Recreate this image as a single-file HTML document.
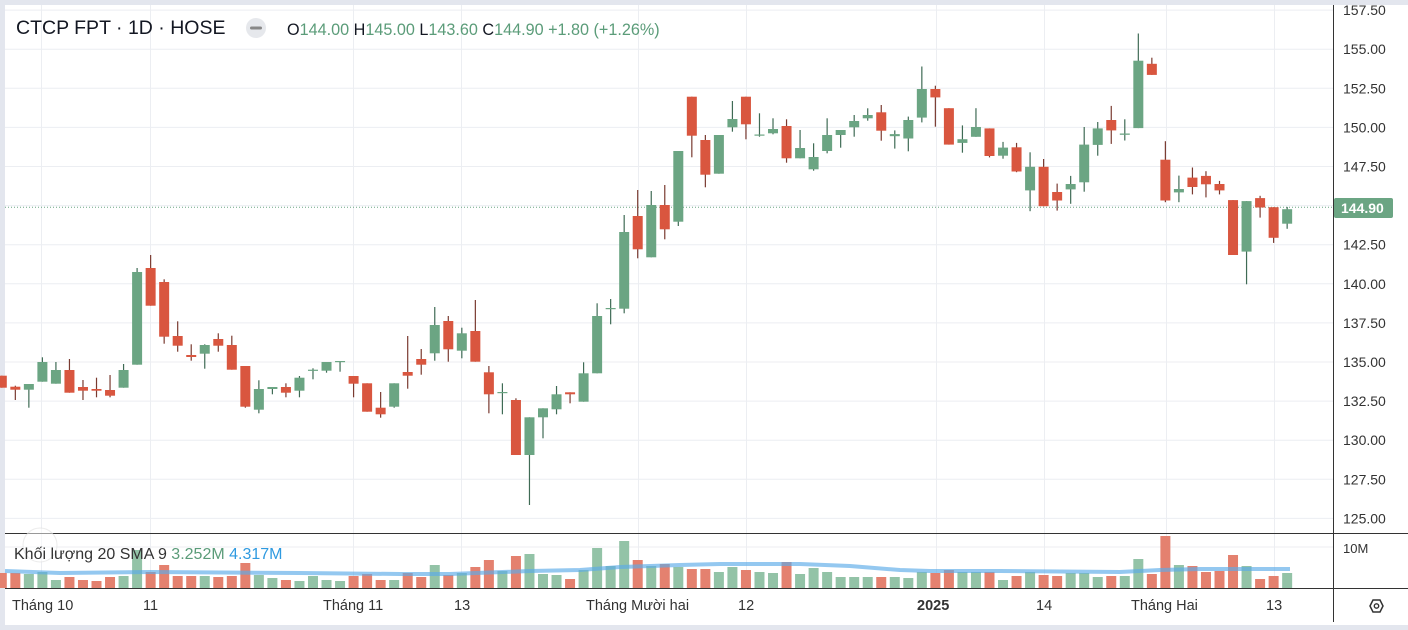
<!DOCTYPE html>
<html><head><meta charset="utf-8"><style>
html,body{margin:0;padding:0;background:#e3e6ee;width:1408px;height:630px;overflow:hidden}
svg{position:absolute;left:0;top:0;font-family:"Liberation Sans","DejaVu Sans",sans-serif}
</style></head><body>
<svg id="s" width="1408" height="630" xmlns="http://www.w3.org/2000/svg">
<rect x="5" y="5" width="1403" height="620" fill="#fff"/>
<g id="grid"></g>
<line x1="5" y1="207.2" x2="1333" y2="207.2" stroke="#6ba583" stroke-width="1" stroke-dasharray="1,2"/>
<g id="vol"></g>
<polyline fill="none" stroke="#5aaae8" stroke-opacity="0.65" stroke-width="4" stroke-linejoin="round" points="5,571 60,573 150,572 300,573 400,574 450,574 530,571 580,570 620,567 680,565 720,564 800,564 850,566 900,570 930,571 1000,571 1120,572 1160,570 1200,569 1290,569"/>
<g id="candles"></g>
<line x1="5" y1="533.5" x2="1408" y2="533.5" stroke="#333" stroke-width="1"/>
<line x1="5" y1="588.5" x2="1408" y2="588.5" stroke="#333" stroke-width="1"/>
<line x1="1333.5" y1="5" x2="1333.5" y2="622" stroke="#333" stroke-width="1"/>
<g id="plabels" font-size="14" fill="#333"></g>
<rect x="1334" y="198" width="59" height="20" rx="2" fill="#6ba583"/>
<text x="1341" y="213" font-size="14" font-weight="bold" fill="#fff">144.90</text>
<text x="1343" y="553" font-size="13" fill="#333">10M</text>
<g font-size="14.5" fill="#333">
<text x="12" y="610">Tháng 10</text>
<text x="143" y="610">11</text>
<text x="323" y="610">Tháng 11</text>
<text x="454" y="610">13</text>
<text x="586" y="610">Tháng Mười hai</text>
<text x="738" y="610">12</text>
<text x="917" y="610" font-weight="bold">2025</text>
<text x="1036" y="610">14</text>
<text x="1131" y="610">Tháng Hai</text>
<text x="1266" y="610">13</text>
</g>
<path d="M1370,606 l3,-6 h7 l3,6 l-3,6 h-7 z" fill="none" stroke="#333" stroke-width="1.5"/>
<circle cx="1376.5" cy="606" r="2.2" fill="none" stroke="#333" stroke-width="1.4"/>
<text x="16" y="34" font-size="19.5" fill="#131722">CTCP FPT · 1D · HOSE</text>
<circle cx="256" cy="28" r="10" fill="#e6e8ec"/>
<rect x="250" y="26.5" width="12" height="3" rx="1.5" fill="#888"/>
<text x="287" y="35" font-size="16.2" fill="#5b9c79"><tspan fill="#131722">O</tspan>144.00 <tspan fill="#131722">H</tspan>145.00 <tspan fill="#131722">L</tspan>143.60 <tspan fill="#131722">C</tspan>144.90 +1.80 (+1.26%)</text>
<circle cx="40" cy="545" r="17" fill="#fff" fill-opacity="0.5" stroke="#ddd" stroke-opacity="0.6"/>
<text x="14" y="559" font-size="16" fill="#333">Khối lượng 20 SMA 9 <tspan fill="#5b9c79">3.252M</tspan> <tspan fill="#2f9ae0">4.317M</tspan></text>
</svg>
<script>
var G='#6ba583',R='#d9563f',GW='#3f6b55',RW='#7a3a30';
var c=[
['r',375.7,387.7],['r',386.7,389.7,385.7,400],['g',384,389.7,384,407.7],['g',362,381.7,357.3,381.7],['g',370,383.7,362,383.7],
['r',370,392.7,359,392.7],['r',387,390.7,380,400],['r',389,390.7,377.7,397.3],['r',390,395.7,375,397.3],['g',370,387.7,364,387.7],
['g',272,364.7,268,364.7],['r',268,305.7,255,305.7],['r',282,336.7,279.3,343.7],['r',336,345.7,321.3,351.7],['r',355,357,344.3,360.7],
['g',345,353.7,344.3,368.7],['r',339,345.7,333.3,351.7],['r',345,369.7,335.7,369.7],['r',366,406.7,366,407.7],['g',389,409.7,380.3,413.3],
['g',387,389,387,394.3],['r',387,392.7,383.3,397.3],['g',377.7,390.7,376,397.3],['g',369.7,370.7,368.3,379.3],['g',362,370.7,362,372.7],
['g',361,362,361,371.7],['r',376,383.7,376,397.3],['r',383.3,411.7],['r',407.7,414.3,392,417.7],['g',383.3,406.7,383.3,407.7],
['r',372,375.7,336,388.7],['r',359,364.7,349,374.7],['g',325,353.3,307,360.7],['r',321,349.3,316,361.7],['g',333.3,350.7,327.7,358.3],
['r',331,361.7,300,361.7],['r',372.3,394.3,366,413.3],['g',392,393,383.3,414.3],['r',400,455,398.3,455],['g',417.3,455,417.3,505],
['g',408.3,417.3,408.3,438.3],['g',394.3,409.3,386,414.3],['r',392.3,394.3,392.3,403.3],['g',373.3,401.7,362.3,401.7],['g',316,373.3,303.3,373.3],
['g',308,309,299,324.3],['g',232,308.7,215,313.3],['r',216,249.3,190,258.3],['g',205,257.3,191,257.3],['r',205,229.3,185,239.3],
['g',151,221.7,151,226],['r',96.7,135.7,96.7,157.3],['r',140,174.7,135,187.3],['g',135,173.7],['g',119,127.3,101,131.7],
['r',96.7,124.3,96.7,139.3],['g',134.5,135.5,113.3,136.7],['g',129,133.3,118.3,134.3],['r',126,158.3,119.3,162.7],['g',148,158.3,130,158.3],
['g',157,169.3,143.3,170.7],['g',135,151,118.3,153.3],['g',130,135,130,147.7],['g',121,127.3,115,136.7],['g',115,118.3,108.3,120.7],
['r',112.3,130.7,105,140.7],['g',134.1,136.2,130.4,148.6],['g',120,138.5,116.6,151.3],['g',89,117.6,66.5,122.4],['r',89,97.4,85.7,126.7],
['r',108.2,144.6],['g',139.2,142.9,125.4,152.7],['g',127,136.8,108.2,136.8],['r',128.4,156,128.4,157.4],['g',147.6,155.7,141.9,158.7],
['r',147.3,171.5,142.9,172.2],['g',166.8,190.4,152.3,211.2],['r',166.8,206.2,159,206.2],['r',192,200.5,183.6,210.6],['g',184,189.4,175.9,203.8],
['g',144.6,182.3,127,191.7],['g',128.4,144.9,122,155.7],['r',120,130.4,105.9,143.9],['g',133.5,134.8,119.3,140.5],['g',60.7,128.1,33.5,128.1],
['r',63.8,74.9,57.7,74.9],['r',159.7,200.5,141.2,202.2],['g',189,192.4,175.6,202.2],['r',177.6,187,167.5,194.4],['r',175.9,184.3,171.2,197.4],
['r',184,190.4,180.9,194.4],['r',200.1,255],['g',201.1,251.6,201.1,284.3],['r',198.1,207.5,195.8,217.6],['r',207.2,237.8,207.2,242.9],
['g',209.2,223.7,206.9,228.8]];
var vol=[15,15,14,16,8,11,8,7,11,12,38,16,23,12,12,12,11,12,25,13,10,8,7,12,8,7,12,14,8,8,15,11,23,13,15,21,28,17,32,34,14,13,9,18,40,22,47,28,22,24,21,19,19,16,21,18,16,15,26,14,20,16,11,11,11,11,11,10,16,15,18,16,16,16,8,12,16,13,12,15,15,11,12,12,29,14,52,23,22,16,17,33,22,9,12,15];
var ns='http://www.w3.org/2000/svg';
function el(p,t,a){var e=document.createElementNS(ns,t);for(var k in a)e.setAttribute(k,a[k]);p.appendChild(e);return e;}
var grid=document.getElementById('grid');
[41,150,353,461,638,746,936,1044,1166,1274].forEach(function(x){el(grid,'line',{x1:x+.5,y1:5,x2:x+.5,y2:588,stroke:'#eceef2','stroke-width':1});});
var pl=document.getElementById('plabels');
for(var i=0;i<=13;i++){var p=125+i*2.5,y=518.4-(p-125)*15.64;
 el(grid,'line',{x1:5,y1:y,x2:1333,y2:y,stroke:'#eceef2','stroke-width':1});
 if(Math.abs(p-145)<0.01)continue;
 var t=el(pl,'text',{x:1343,y:y+5});t.textContent=p.toFixed(2);}
el(grid,'line',{x1:5,y1:547,x2:1333,y2:547,stroke:'#eceef2','stroke-width':1});
var cg=document.getElementById('candles'),vg=document.getElementById('vol');
c.forEach(function(d,i){var x=1.8+i*13.53,g=d[0]=='g';
 var bt=d[1],bb=d[2],wt=d.length>3?d[3]:bt,wb=d.length>4?d[4]:bb;
 el(cg,'line',{x1:x,y1:wt,x2:x,y2:wb,stroke:g?GW:RW,'stroke-width':1.2});
 el(cg,'rect',{x:x-5,y:bt,width:10,height:Math.max(1.2,bb-bt),fill:g?G:R});
 var h=vol[i];el(vg,'rect',{x:x-5,y:588-h,width:10,height:h,fill:g?'#93c3a7':'#e4816f'});
});
</script>
</body></html>
